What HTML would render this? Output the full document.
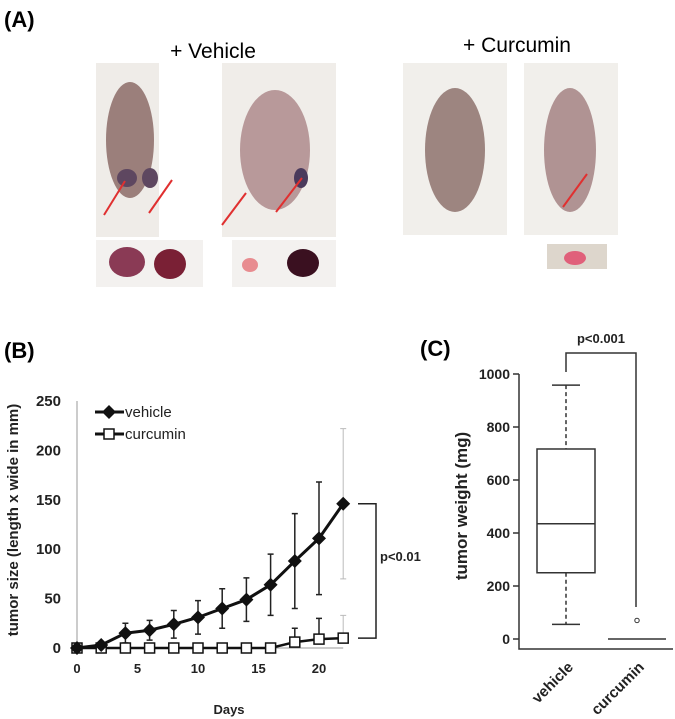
<!DOCTYPE html>
<html><head><meta charset="utf-8"><style>
body{margin:0;background:#fff;font-family:"Liberation Sans",sans-serif}
svg{display:block}
text{font-family:"Liberation Sans",sans-serif}
</style></head><body>
<svg id="fig" width="675" height="719" viewBox="0 0 675 719">
<g>
<text x="4" y="27" font-size="22" font-weight="bold">(A)</text>
<text x="213" y="58" font-size="21" text-anchor="middle">+ Vehicle</text>
<text x="517" y="52" font-size="21" text-anchor="middle">+ Curcumin</text>
<g>
<rect x="96" y="63" width="63" height="174" fill="#efece8"/>
<ellipse cx="130" cy="140" rx="24" ry="58" fill="#9b7f7b"/>
<ellipse cx="127" cy="178" rx="10" ry="9" fill="#5e4760"/><ellipse cx="150" cy="178" rx="8" ry="10" fill="#5e4760"/>
<line x1="104" y1="215" x2="125" y2="181" stroke="#e03030" stroke-width="2"/>
<line x1="149" y1="213" x2="172" y2="180" stroke="#e03030" stroke-width="2"/>
</g>
<g>
<rect x="222" y="63" width="114" height="174" fill="#f0ede9"/>
<ellipse cx="275" cy="150" rx="35" ry="60" fill="#b8999a"/>
<ellipse cx="301" cy="178" rx="7" ry="10" fill="#4a3a5c"/>
<line x1="222" y1="225" x2="246" y2="193" stroke="#e03030" stroke-width="2"/>
<line x1="276" y1="212" x2="302" y2="178" stroke="#e03030" stroke-width="2"/>
</g>
<g>
<rect x="96" y="240" width="107" height="47" fill="#f3f1ef"/>
<ellipse cx="127" cy="262" rx="18" ry="15" fill="#8a3a55"/><ellipse cx="170" cy="264" rx="16" ry="15" fill="#7a2035"/>
<rect x="232" y="240" width="104" height="47" fill="#f3f1ef"/>
<ellipse cx="250" cy="265" rx="8" ry="7" fill="#e88c90"/><ellipse cx="303" cy="263" rx="16" ry="14" fill="#3a1020"/>
</g>
<g>
<rect x="403" y="63" width="104" height="172" fill="#f1efeb"/>
<ellipse cx="455" cy="150" rx="30" ry="62" fill="#9d8580"/>
</g>
<g>
<rect x="524" y="63" width="94" height="172" fill="#f1efeb"/>
<ellipse cx="570" cy="150" rx="26" ry="62" fill="#b09393"/>
<line x1="563" y1="207" x2="587" y2="174" stroke="#e03030" stroke-width="2"/>
</g>
<g>
<rect x="547" y="244" width="60" height="25" fill="#ddd6cc"/>
<ellipse cx="575" cy="258" rx="11" ry="7" fill="#e0607a"/>
</g>
</g>
<text x="4" y="358" font-size="22" font-weight="bold">(B)</text>
<text x="420" y="356" font-size="22" font-weight="bold">(C)</text>
<g id="chartB"></g>
<g id="chartC"></g>
</svg>
<script>
const NS="http://www.w3.org/2000/svg";
function mk(p,t,a,txt){const e=document.createElementNS(NS,t);for(const k in a)e.setAttribute(k,a[k]);if(txt!==undefined)e.textContent=txt;p.appendChild(e);return e;}
// ---- Chart B data ----
const days=[0,2,4,6,8,10,12,14,16,18,20,22];
const vehicleVals=[0,3,15,18,24,31,40,49,64,88,111,146];
const vehicleErr=[0,0,10,10,14,17,20,22,31,48,57,76];
const curcuminVals=[0,0,0,0,0,0,0,0,0,6,9,10];
const curcuminErr=[0,0,0,0,0,0,0,0,0,14,21,23];
const xTicksB=[0,5,10,15,20];
const yTicksB=[0,50,100,150,200,250];
// ---- Chart C data ----
const groupsC=["vehicle","curcumin"];
const vehicleBox={min:55,q1:250,median:435,q3:717,max:958};
const curcuminBox={min:0,q1:0,median:0,q3:0,max:0};
const curcuminOutliers=[70];
const yTicksC=[0,200,400,600,800,1000];

(function(){
const g=document.getElementById('chartB');
const xB=d=>77+d*12.1, yB=v=>648-v*0.988;
const ax=mk(g,'line',{x1:xB(0),y1:yB(250),x2:xB(0),y2:yB(0),stroke:'#999','stroke-width':1});

const bx=mk(g,'line',{x1:xB(0),y1:yB(0),x2:xB(22),y2:yB(0),stroke:'#999','stroke-width':1});

yTicksB.forEach(v=>{const t=mk(g,'text',{x:61,y:yB(v)+5,'font-size':15,'font-weight':'bold','text-anchor':'end',fill:'#222'},v);
});
xTicksB.forEach(v=>{const t=mk(g,'text',{x:xB(v),y:673,'font-size':13,'font-weight':'bold','text-anchor':'middle',fill:'#222'},v);
});
const xt=mk(g,'text',{x:229,y:714,'font-size':13,'font-weight':'bold','text-anchor':'middle',fill:'#222'},'Days');

const yt=mk(g,'text',{x:0,y:0,'font-size':15,'font-weight':'bold','text-anchor':'middle',fill:'#222',transform:'translate(18,520) rotate(-90)'},'tumor size (length x wide in mm)');

// error bars
days.forEach((d,i)=>{
 if(vehicleErr[i]>0){const last=i===days.length-1;
  const e=mk(g,'path',{d:`M${xB(d)-3},${yB(vehicleVals[i]+vehicleErr[i])}h6M${xB(d)},${yB(vehicleVals[i]+vehicleErr[i])}V${yB(vehicleVals[i]-vehicleErr[i])}M${xB(d)-3},${yB(vehicleVals[i]-vehicleErr[i])}h6`,stroke:last?'#bbb':'#222','stroke-width':last?1:1.5,fill:'none'});
  }
 if(curcuminErr[i]>0){const last=i===days.length-1;
  const e=mk(g,'path',{d:`M${xB(d)-3},${yB(curcuminVals[i]+curcuminErr[i])}h6M${xB(d)},${yB(curcuminVals[i]+curcuminErr[i])}V${yB(curcuminVals[i])}`,stroke:last?'#bbb':'#222','stroke-width':last?1:1.5,fill:'none'});
  }
});
const lc=mk(g,'polyline',{points:days.map((d,i)=>xB(d)+','+yB(curcuminVals[i])).join(' '),fill:'none',stroke:'#111','stroke-width':2.5});

const lv=mk(g,'polyline',{points:days.map((d,i)=>xB(d)+','+yB(vehicleVals[i])).join(' '),fill:'none',stroke:'#111','stroke-width':3});

days.forEach((d,i)=>{
 const s=mk(g,'rect',{x:xB(d)-5,y:yB(curcuminVals[i])-5,width:10,height:10,fill:'#fff',stroke:'#111','stroke-width':1.5});
 
 const p=mk(g,'path',{d:`M${xB(d)},${yB(vehicleVals[i])-7}l7,7l-7,7l-7,-7z`,fill:'#111'});
 
});
// legend
const l1=mk(g,'g',{});
mk(l1,'line',{x1:95,y1:412,x2:124,y2:412,stroke:'#111','stroke-width':3});
mk(l1,'path',{d:'M109,405l7,7l-7,7l-7,-7z',fill:'#111'});
mk(l1,'text',{x:125,y:417,'font-size':15,fill:'#222'},'vehicle');
const l2=mk(g,'g',{});
mk(l2,'line',{x1:95,y1:434,x2:124,y2:434,stroke:'#111','stroke-width':3});
mk(l2,'rect',{x:104,y:429,width:10,height:10,fill:'#fff',stroke:'#111','stroke-width':1.5});
mk(l2,'text',{x:125,y:439,'font-size':15,fill:'#222'},'curcumin');
// bracket
const br=mk(g,'path',{d:`M358,${yB(146)}H376V${yB(10)}H358`,fill:'none',stroke:'#222','stroke-width':1.5});

const pt=mk(g,'text',{x:380,y:561,'font-size':13,'font-weight':'bold',fill:'#222'},'p<0.01');

})();

(function(){
const g=document.getElementById('chartC');
const yC=v=>639-v*0.265;
const xC=[566,637];
const a=mk(g,'path',{d:`M519,${yC(1000)}V649H673`,fill:'none',stroke:'#333','stroke-width':1.5});

yTicksC.forEach(v=>{mk(g,'line',{x1:513,y1:yC(v),x2:519,y2:yC(v),stroke:'#333','stroke-width':1.5});
 const t=mk(g,'text',{x:510,y:yC(v)+5,'font-size':14,'font-weight':'bold','text-anchor':'end',fill:'#222'},v);
 });
const yt=mk(g,'text',{x:0,y:0,'font-size':17,'font-weight':'bold','text-anchor':'middle',fill:'#222',transform:'translate(467,506) rotate(-90)'},'tumor weight (mg)');

groupsC.forEach((n,i)=>{const t=mk(g,'text',{x:0,y:0,'font-size':15,'font-weight':'bold','text-anchor':'end',fill:'#222',transform:`translate(${xC[i]+8},668) rotate(-45)`},n);
 });
[vehicleBox,curcuminBox].forEach((b,i)=>{const x=xC[i],hw=29;
 const bg=mk(g,'g',{});
 if(b.q3>b.q1){
  mk(bg,'line',{x1:x,y1:yC(b.max),x2:x,y2:yC(b.q3),stroke:'#333','stroke-width':1.5,'stroke-dasharray':'4,3'});
  mk(bg,'line',{x1:x,y1:yC(b.q1),x2:x,y2:yC(b.min),stroke:'#333','stroke-width':1.5,'stroke-dasharray':'4,3'});
  mk(bg,'line',{x1:x-14,y1:yC(b.max),x2:x+14,y2:yC(b.max),stroke:'#333','stroke-width':1.5});
  mk(bg,'line',{x1:x-14,y1:yC(b.min),x2:x+14,y2:yC(b.min),stroke:'#333','stroke-width':1.5});
  mk(bg,'rect',{x:x-hw,y:yC(b.q3),width:hw*2,height:yC(b.q1)-yC(b.q3),fill:'none',stroke:'#333','stroke-width':1.5});
 }
 mk(bg,'line',{x1:x-hw,y1:yC(b.median),x2:x+hw,y2:yC(b.median),stroke:'#333','stroke-width':1.5});
});
curcuminOutliers.forEach(v=>{const c=mk(g,'circle',{cx:xC[1],cy:yC(v),r:2.2,fill:'none',stroke:'#333','stroke-width':1});
 });
const br=mk(g,'path',{d:`M566,372V353H636V607`,fill:'none',stroke:'#333','stroke-width':1.5});

const pt=mk(g,'text',{x:601,y:343,'font-size':13,'font-weight':'bold','text-anchor':'middle',fill:'#222'},'p<0.001');

})();
</script>
</body></html>
